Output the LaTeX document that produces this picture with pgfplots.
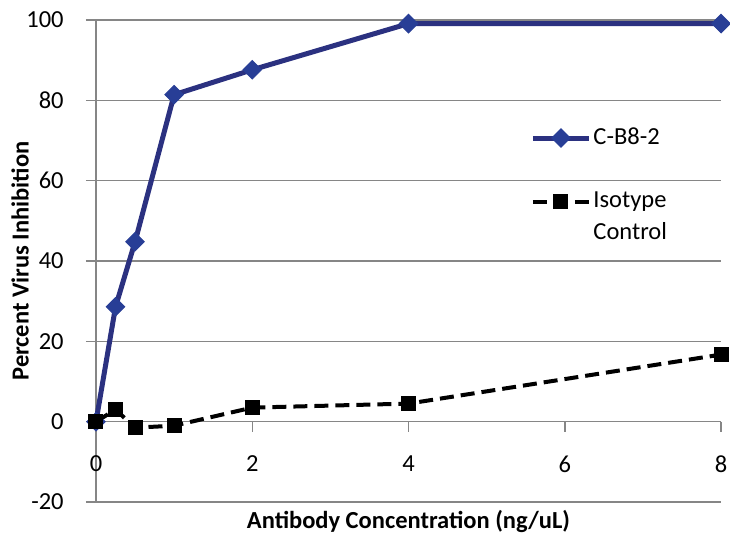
\documentclass[border=0pt]{standalone}
\usepackage{pgfplots}
\pgfplotsset{compat=1.18}
\usetikzlibrary{calc}
\usepackage{fontspec}
\setmainfont{Carlito}
\definecolor{navyline}{RGB}{43,49,128}
\definecolor{navymark}{RGB}{40,62,150}
\definecolor{gridgray}{RGB}{134,134,134}
\begin{document}
\fontsize{24.5}{32}\selectfont
\begin{tikzpicture}
\begin{axis}[
  scale only axis,
  width=625pt, height=482pt,
  xmin=0, xmax=8, ymin=-20, ymax=100,
  xtick={0,2,4,6,8}, ytick={-20,0,20,40,60,80,100},
  axis y line=left, axis x line=middle,
  hide obscured x ticks=false, hide obscured y ticks=false,
  axis line style={gridgray, line width=1.5pt, -},
  ymajorgrids, grid style={gridgray, line width=1.5pt},
  tick style={draw=gridgray, line width=1.5pt},
  tick align=outside, major tick length=10pt,
  /pgf/number format/assume math mode=true,
  ticklabel style={font=\fontsize{24.5}{30}\selectfont},
  xticklabel style={yshift=-16pt},
  yticklabel style={xshift=-14pt},
  xlabel={\textbf{Antibody Concentration (ng/uL)}},
  ylabel={\textbf{Percent Virus Inhibition}},
  label style={font=\fontsize{24.5}{30}\selectfont},
  xlabel style={at={(rel axis cs:0.5,0)}, anchor=north, yshift=0pt},
  ylabel style={at={($(rel axis cs:0,0.5)+(-76pt,0pt)$)}, anchor=center},
  clip=false,
  legend style={draw=none, fill=none, at={(rel axis cs:0.69,0.785)}, anchor=north west,
    font=\fontsize{24.5}{32}\selectfont, cells={align=left, anchor=west}, row sep=40pt},
  legend image code/.code={%
    \draw[mark repeat=2,mark phase=2] plot coordinates {(0pt,0pt)(28pt,0pt)(56pt,0pt)};},
]
\pgfplotsinvokeforeach{2,4,6,8}{\draw[gridgray, line width=1.5pt] (axis cs:#1,0) -- ++(0pt,-9pt);}
\addplot[color=navyline, line width=5pt, mark=square*, mark size=6.5pt,
  mark options={rotate=45, solid, fill=navymark, draw=navymark, line width=1pt}]
  coordinates {(0,0) (0.25,28.6) (0.5,44.8) (1,81.4) (2,87.6) (4,99.1) (8,99.1)};
\addlegendentry{C-B8-2}
\addplot[color=black, line width=4pt, dash pattern=on 14pt off 7pt, mark=square*, mark size=7pt,
  mark options={solid, fill=black, line width=1pt},
  legend image post style={yshift=16pt}]
  coordinates {(0,0) (0.25,3) (0.5,-1.5) (1,-1) (2,3.5) (4,4.5) (8,16.7)};
\addlegendentry{Isotype\\Control}
\end{axis}
\pgfresetboundingbox
\path (current axis.south west) ++(-96pt,-33pt) rectangle ++(730pt,535pt);
\end{tikzpicture}
\end{document}
